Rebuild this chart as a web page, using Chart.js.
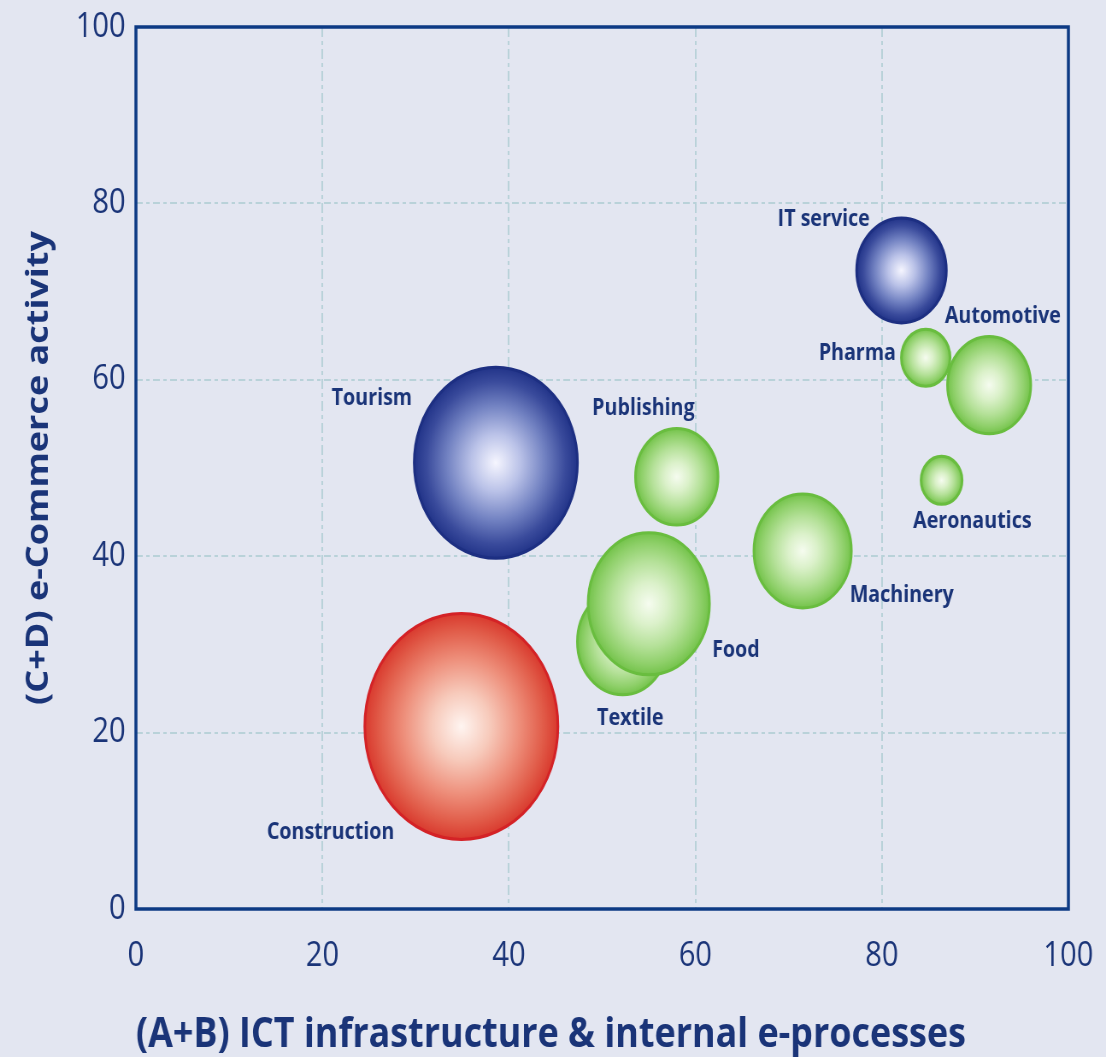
<!DOCTYPE html>
<html>
<head>
<meta charset="utf-8">
<script src="https://cdn.jsdelivr.net/npm/chart.js@4.4.1/dist/chart.umd.min.js"></script>
<style>
  html, body { margin: 0; padding: 0; background: #e3e6f1; overflow: hidden; }
  #chart { display: block; }
</style>
</head>
<body>
<!-- the source picture is squeezed horizontally, so draw wide and squeeze -->
<canvas id="chart" width="1294" height="1057" style="width:1106px;height:1057px"></canvas>
<script>
// Sectors and their scores
const sectors = ['Textile', 'Food', 'Tourism', 'Construction', 'IT service', 'Pharma',
                 'Automotive', 'Aeronautics', 'Publishing', 'Machinery'];
const ictScore = [52.2, 55.0, 38.6, 34.9, 82.1, 84.7, 91.5, 86.4, 58.0, 71.5];       // (A+B)
const ecommerceScore = [30.3, 34.6, 50.6, 20.7, 72.4, 62.5, 59.4, 48.6, 49.0, 40.6]; // (C+D)
const bubbleSize = [53, 71, 95.5, 113, 52.5, 28.5, 48.7, 24, 48.3, 57];
const sectorGroup = ['industry', 'industry', 'services', 'construction', 'services', 'industry',
                     'industry', 'industry', 'industry', 'industry'];
const axisTicks = [0, 20, 40, 60, 80, 100];

const navy = '#0d3a84';
const textNavy = '#1a3478';

// gradient stops per group: centre -> edge
const palette = {
  services:     { stops: ['#f6f6ff', '#bac2e8', '#7282c2', '#3a4b9c', '#223489'], edge: '#1d2f82' },
  industry:     { stops: ['#f6fcf0', '#dbf1ca', '#b5e199', '#8fd06a', '#74c34b'], edge: '#69bd3f' },
  construction: { stops: ['#fff5f1', '#f7cabb', '#ee8f7b', '#e15c49', '#d93a2e'], edge: '#d42226' }
};

// label offsets from the bubble centre (canvas px)
const labelOffset = [
  [9, 77], [102, 47], [-145, -64], [-153, 106], [-91, -51], [-80, -4],
  [16, -69], [36, 41], [-39, -68], [116, 45]
];

// bubbles may run up to the frame, don't pad the chart area for them
Chart.BubbleController.prototype.getMaxOverflow = () => false;

function bubbleFill(ctx) {
  const chart = ctx.chart;
  if (!chart.chartArea || ctx.type !== 'data') return '#999';
  const i = ctx.dataIndex;
  const x = chart.scales.x.getPixelForValue(ictScore[i]);
  const y = chart.scales.y.getPixelForValue(ecommerceScore[i]);
  const r = bubbleSize[i];
  const g = chart.ctx.createRadialGradient(x, y, 0, x, y, r);
  const stops = palette[sectorGroup[i]].stops;
  [0, 0.3, 0.6, 0.85, 1].forEach((p, k) => g.addColorStop(p, stops[k]));
  return g;
}

const frameAndBackground = {
  id: 'frameAndBackground',
  beforeDraw(chart) {
    const c = chart.ctx;
    c.save();
    c.fillStyle = '#e3e6f1';
    c.fillRect(0, 0, chart.width, chart.height);
    c.restore();
  },
  afterDraw(chart) {
    const a = chart.chartArea;
    const c = chart.ctx;
    c.save();
    c.strokeStyle = navy;
    c.lineWidth = 3.5;
    c.strokeRect(a.left, a.top, a.right - a.left, a.bottom - a.top);
    c.restore();
  }
};

const sectorLabels = {
  id: 'sectorLabels',
  afterDatasetsDraw(chart) {
    const meta = chart.getDatasetMeta(0);
    const c = chart.ctx;
    c.save();
    c.font = 'bold 23px "Open Sans"';
    c.fillStyle = textNavy;
    c.textAlign = 'center';
    c.textBaseline = 'middle';
    meta.data.forEach((el, i) => {
      c.fillText(sectors[i], el.x + labelOffset[i][0], el.y + labelOffset[i][1]);
    });
    c.restore();
  }
};

const gridStyle = {
  color: ctx => (ctx.tick && (ctx.tick.value === 0 || ctx.tick.value === 100)) ? 'rgba(0,0,0,0)' : '#b9d2d9',
  lineWidth: 2,
  drawTicks: false
};

new Chart(document.getElementById('chart'), {
  type: 'bubble',
  data: {
    datasets: [{
      label: 'Sectors',
      data: sectors.map((s, i) => ({ x: ictScore[i], y: ecommerceScore[i], r: bubbleSize[i] })),
      backgroundColor: bubbleFill,
      borderColor: ctx => palette[sectorGroup[ctx.dataIndex]].edge,
      borderWidth: 3,
      hoverRadius: 0
    }]
  },
  options: {
    responsive: false,
    devicePixelRatio: 1,
    animation: false,
    clip: false,
    layout: { padding: { top: 27, right: 44, left: 0, bottom: 0 } },
    plugins: {
      legend: { display: false },
      tooltip: { enabled: false }
    },
    scales: {
      x: {
        type: 'linear',
        min: 0,
        max: 100,
        afterBuildTicks: scale => { scale.ticks = axisTicks.map(v => ({ value: v })); },
        afterFit: scale => {
          scale.height = 148;
          scale.paddingLeft = 0;
          scale.paddingRight = 0;
        },
        grid: gridStyle,
        border: { display: false, dash: [10, 4, 4, 4] },
        ticks: {
          color: textNavy,
          padding: 27,
          font: { family: 'Open Sans', size: 34 }
        },
        title: {
          display: true,
          text: '(A+B) ICT infrastructure & internal e-processes',
          color: textNavy,
          align: 'start',
          padding: { top: 0, bottom: -3 },
          font: { family: 'Open Sans', size: 42, weight: 'bold' }
        }
      },
      y: {
        type: 'linear',
        min: 0,
        max: 100,
        afterBuildTicks: scale => { scale.ticks = axisTicks.map(v => ({ value: v })); },
        afterFit: scale => {
          scale.width = 159;
          scale.paddingTop = 0;
          scale.paddingBottom = 0;
        },
        grid: gridStyle,
        border: { display: false, dash: [8, 4, 4, 4] },
        ticks: {
          color: textNavy,
          padding: 12,
          font: { family: 'Open Sans', size: 34 }
        },
        title: {
          display: true,
          text: '(C+D) e-Commerce activity',
          color: textNavy,
          padding: { top: 24, bottom: 0 },
          font: { family: 'Open Sans', size: 36, weight: 'bold' }
        }
      }
    }
  },
  plugins: [frameAndBackground, sectorLabels]
});
</script>
</body>
</html>
